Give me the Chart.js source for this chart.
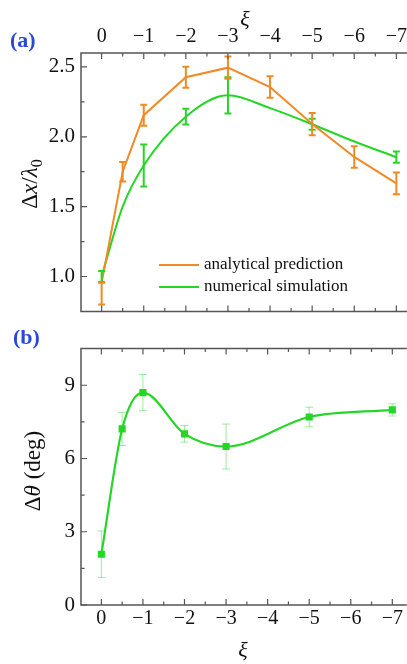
<!DOCTYPE html>
<html>
<head>
<meta charset="utf-8">
<script src="https://cdn.jsdelivr.net/npm/chart.js@4.4.1/dist/chart.umd.min.js"></script>
<style>
  html, body { margin: 0; padding: 0; background: #fff; }
  body { width: 407px; height: 664px; position: relative; overflow: hidden; }
  .panel { position: absolute; left: 0; }
  #wrapA { top: 0; width: 411px; height: 330px; }
  #wrapB { top: 330px; width: 411px; height: 334px; }
</style>
</head>
<body>
<div class="panel" id="wrapA"><canvas id="chartA" width="411" height="330"></canvas></div>
<div class="panel" id="wrapB"><canvas id="chartB" width="411" height="334"></canvas></div>
<script>
// --- data ---
const xiTicks = [0, -1, -2, -3, -4, -5, -6, -7];
const xiMinor = [-0.5, -1.5, -2.5, -3.5, -4.5, -5.5, -6.5];
const dxTicks = [1.0, 1.5, 2.0, 2.5];
const dxMinor = [1.25, 1.75, 2.25];
const thetaTicks = [0, 3, 6, 9];
const thetaMinor = [1.5, 4.5, 7.5];

// (a) analytical prediction
const analyticXi = [0, -0.5, -1, -2, -3, -4, -5, -6, -7];
const analyticDx = [0.955, 1.75, 2.155, 2.427, 2.495, 2.356, 2.091, 1.856, 1.667];
const analyticErrLow = [0.155, 0.07, 0.075, 0.075, 0.08, 0.077, 0.08, 0.077, 0.078];
const analyticErrHigh = [0.0, 0.07, 0.075, 0.075, 0.08, 0.077, 0.08, 0.077, 0.078];

// (a) numerical simulation
const numericXi = [0, -0.5, -1, -2, -3, -4, -5, -6, -7];
const numericDx = [1.0, 1.5, 1.795, 2.144, 2.297, 2.205, 2.09, 1.966, 1.854];
const numericErr = [0.04, null, 0.15, 0.056, 0.13, null, 0.04, null, 0.04];

// (b) deflection angle
const thetaXi = [0, -0.5, -1, -2, -3, -5, -7];
const thetaDeg = [2.08, 7.21, 8.70, 7.01, 6.49, 7.70, 7.99];
const thetaErr = [0.95, 0.68, 0.74, 0.34, 0.92, 0.40, 0.25];

const ORANGE = '#f08a26';
const GREEN = '#26d626';
const GREEN_LIGHT = 'rgba(38, 214, 38, 0.45)';
const BLUE = '#2a48d8';
const FRAME = '#555555';
const SERIF = '"Liberation Serif", "DejaVu Serif", serif';

const fmtXi = v => (v === 0 ? '0' : '\u2212' + Math.abs(v));
const pts = (xs, ys) => xs.map((x, i) => ({ x: x, y: ys[i] }));

// error bars with caps, drawn from the dataset's own error arrays
const errorBars = {
  id: 'errorBars',
  afterDatasetsDraw(chart) {
    const ctx = chart.ctx;
    const yScale = chart.scales.y;
    const sets = chart.data.datasets;
    for (let i = sets.length - 1; i >= 0; i--) {
      const ds = sets[i];
      if (!ds.errLow) continue;
      const meta = chart.getDatasetMeta(i);
      ctx.save();
      ctx.strokeStyle = ds.errColor;
      ctx.lineWidth = ds.errWidth;
      meta.data.forEach((pt, j) => {
        const lo = ds.errLow[j], hi = ds.errHigh[j];
        if (lo == null) return;
        const v = ds.data[j].y;
        const yt = yScale.getPixelForValue(v + hi);
        const yb = yScale.getPixelForValue(v - lo);
        const c = ds.capHalf;
        ctx.beginPath();
        ctx.moveTo(pt.x, yt); ctx.lineTo(pt.x, yb);
        ctx.moveTo(pt.x - c, yt); ctx.lineTo(pt.x + c, yt);
        ctx.moveTo(pt.x - c, yb); ctx.lineTo(pt.x + c, yb);
        ctx.stroke();
      });
      ctx.restore();
    }
  }
};

// box around the plot with inward ticks
const frame = {
  id: 'frame',
  afterDraw(chart, args, o) {
    const { ctx, chartArea: a, scales: { x, y } } = chart;
    ctx.save();
    ctx.strokeStyle = FRAME;
    ctx.lineWidth = 1.5;
    ctx.beginPath();
    ctx.moveTo(a.right + 2, a.top); ctx.lineTo(a.left, a.top);
    ctx.lineTo(a.left, a.bottom); ctx.lineTo(a.right + 2, a.bottom);
    ctx.stroke();
    ctx.lineWidth = 1.2;
    ctx.beginPath();
    const xt = (vals, len) => vals.forEach(v => {
      const px = x.getPixelForValue(v);
      ctx.moveTo(px, a.top); ctx.lineTo(px, a.top + len);
      ctx.moveTo(px, a.bottom); ctx.lineTo(px, a.bottom - len);
    });
    const yt = (vals, len) => vals.forEach(v => {
      const py = y.getPixelForValue(v);
      ctx.moveTo(a.left, py); ctx.lineTo(a.left + len, py);
    });
    xt(o.majorX, 6); xt(o.minorX, 3.5);
    yt(o.majorY, 6); yt(o.minorY, 3.5);
    ctx.stroke();
    ctx.restore();
  }
};

// text drawn outside the plot: panel letter, rotated y title, legend
const drawRich = (ctx, parts, cx, cy, rotate) => {
  ctx.save();
  ctx.translate(cx, cy);
  if (rotate) ctx.rotate(-Math.PI / 2);
  ctx.fillStyle = '#111';
  ctx.textBaseline = 'middle';
  const fontFor = p => (p.italic ? 'italic ' : '') + (p.sub ? '16px ' : '23px ') + SERIF;
  let total = 0;
  parts.forEach(p => { ctx.font = fontFor(p); total += ctx.measureText(p.t).width; });
  let px = -total / 2;
  parts.forEach(p => {
    ctx.font = fontFor(p);
    ctx.fillText(p.t, px, p.sub ? 7 : 0);
    px += ctx.measureText(p.t).width;
  });
  ctx.restore();
};

const annotations = {
  id: 'annotations',
  afterDraw(chart, args, o) {
    const ctx = chart.ctx;
    ctx.save();
    ctx.fillStyle = BLUE;
    ctx.font = 'bold 22px ' + SERIF;
    ctx.textBaseline = 'middle';
    ctx.fillText(o.letter, o.letterX, o.letterY);
    ctx.restore();
    drawRich(ctx, o.yTitle, o.yTitleX, o.yTitleY, true);
    if (o.legend) {
      ctx.save();
      ctx.font = '17px ' + SERIF;
      ctx.textBaseline = 'middle';
      o.legend.forEach(item => {
        ctx.strokeStyle = item.color;
        ctx.lineWidth = 2;
        ctx.beginPath();
        ctx.moveTo(item.x, item.y); ctx.lineTo(item.x + 40, item.y);
        ctx.stroke();
        ctx.fillStyle = '#111';
        ctx.fillText(item.text, item.x + 45, item.y);
      });
      ctx.restore();
    }
  }
};

const xTickFont = { family: SERIF, size: 20 };
const yTickFont = { family: SERIF, size: 21 };
const xiTitle = { display: true, text: 'ξ', color: '#111', font: { family: SERIF, size: 22, style: 'italic' } };

const xScale = (pos, height, pad, titlePad) => ({
  type: 'linear', position: pos, reverse: true, min: -7.3, max: 0.49,
  grid: { display: false, drawTicks: false }, border: { display: false },
  title: Object.assign({}, xiTitle, { padding: titlePad }),
  ticks: { padding: pad, color: '#111', font: xTickFont, callback: fmtXi, maxRotation: 0 },
  afterBuildTicks: s => { s.ticks = xiTicks.map(v => ({ value: v })); },
  afterFit: s => { s.height = height; }
});

new Chart(document.getElementById('chartA'), {
  type: 'line',
  data: {
    datasets: [
      {
        label: 'analytical prediction', data: pts(analyticXi, analyticDx),
        borderColor: ORANGE, borderWidth: 2, pointRadius: 0, tension: 0,
        errLow: analyticErrLow, errHigh: analyticErrHigh, errColor: ORANGE, errWidth: 2, capHalf: 3.5
      },
      {
        label: 'numerical simulation', data: pts(numericXi, numericDx),
        borderColor: GREEN, borderWidth: 2, pointRadius: 0, cubicInterpolationMode: 'monotone',
        errLow: numericErr, errHigh: numericErr, errColor: GREEN, errWidth: 2, capHalf: 3.5
      }
    ]
  },
  options: {
    responsive: false, animation: false,
    layout: { padding: { left: 0, right: 0, top: 0, bottom: 7 } },
    plugins: {
      legend: { display: false }, tooltip: { enabled: false },
      frame: { majorX: xiTicks, minorX: xiMinor, majorY: dxTicks, minorY: dxMinor },
      annotations: {
        letter: '(a)', letterX: 10, letterY: 41,
        yTitle: [{ t: 'Δ' }, { t: 'x', italic: true }, { t: '/' }, { t: 'λ', italic: true }, { t: '0', sub: true }],
        yTitleX: 31, yTitleY: 184,
        legend: [
          { text: 'analytical prediction', color: ORANGE, x: 159, y: 265 },
          { text: 'numerical simulation', color: GREEN, x: 159, y: 287 }
        ]
      }
    },
    scales: {
      x: xScale('top', 53, 4, { top: 7, bottom: 0 }),
      y: {
        type: 'linear', min: 0.75, max: 2.6,
        grid: { display: false, drawTicks: false }, border: { display: false },
        ticks: { padding: 6, color: '#111', font: yTickFont, callback: v => v.toFixed(1) },
        afterBuildTicks: s => { s.ticks = dxTicks.map(v => ({ value: v })); },
        afterFit: s => { s.width = 81; }
      }
    }
  },
  plugins: [errorBars, frame, annotations]
});

new Chart(document.getElementById('chartB'), {
  type: 'line',
  data: {
    datasets: [
      {
        label: 'Δθ', data: pts(thetaXi, thetaDeg),
        borderColor: GREEN, borderWidth: 2.2, cubicInterpolationMode: 'monotone',
        pointStyle: 'rect', pointRadius: 3.5, pointBackgroundColor: GREEN, pointBorderColor: GREEN,
        errLow: thetaErr, errHigh: thetaErr, errColor: GREEN_LIGHT, errWidth: 1, capHalf: 4
      }
    ]
  },
  options: {
    responsive: false, animation: false,
    layout: { padding: { left: 0, right: 0, top: 5, bottom: 0 } },
    plugins: {
      legend: { display: false }, tooltip: { enabled: false },
      frame: { majorX: xiTicks, minorX: xiMinor, majorY: thetaTicks, minorY: thetaMinor },
      annotations: {
        letter: '(b)', letterX: 13, letterY: 8,
        yTitle: [{ t: 'Δ' }, { t: 'θ', italic: true }, { t: ' (deg)' }],
        yTitleX: 34, yTitleY: 141
      }
    },
    scales: {
      x: xScale('bottom', 59, 2, { top: 0, bottom: 0 }),
      y: {
        type: 'linear', min: 0, max: 10.5,
        grid: { display: false, drawTicks: false }, border: { display: false },
        ticks: { padding: 6, color: '#111', font: yTickFont, callback: v => String(v) },
        afterBuildTicks: s => { s.ticks = thetaTicks.map(v => ({ value: v })); },
        afterFit: s => { s.width = 81; }
      }
    }
  },
  plugins: [errorBars, frame, annotations]
});
</script>
</body>
</html>
